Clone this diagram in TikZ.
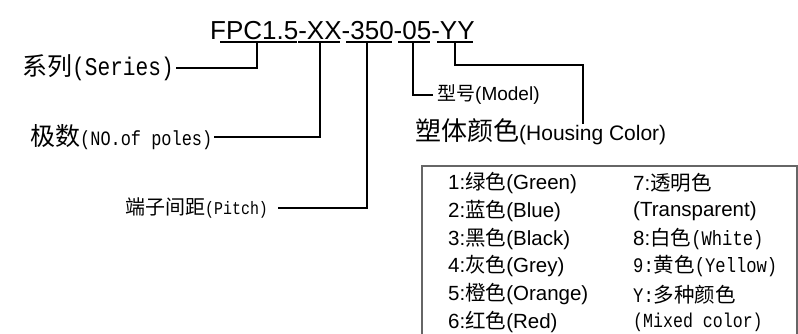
\documentclass[tikz,border=0pt]{standalone}
\usepackage{fontspec}
\setmainfont{Liberation Sans}
\newfontfamily\cjk{Noto Sans CJK SC}
\newfontfamily\monof[FakeStretch=0.83]{Liberation Mono}
\newcommand{\fsz}[1]{\fontsize{#1}{#1}\selectfont}
\begin{document}
\begin{tikzpicture}[x=1pt,y=-1pt,
  lbl/.style={inner sep=0pt,anchor=west},
  conn/.style={line width=1.5pt,line join=miter},
  uline/.style={line width=1.3pt},
  rowtxt/.style={inner sep=0pt,anchor=west,font=\fsz{20.5}}]
\useasboundingbox (0,0) rectangle (798,334);
% title
\node[inner sep=0pt,anchor=base west,font=\fsz{26}] (title) at (210,39.5) {FPC1.5-XX-350-05-YY};
\coordinate (ua1) at (220,42); \coordinate (ua2) at (297,42);
\coordinate (ub1) at (298,42); \coordinate (ub2) at (340,42);
\coordinate (uc1) at (346,42); \coordinate (uc2) at (392,42);
\coordinate (ud1) at (398,42); \coordinate (ud2) at (430,42);
\coordinate (ue1) at (437,42); \coordinate (ue2) at (473,42);
\draw[uline] (ua1) -- (ua2) (ub1) -- (ub2) (uc1) -- (uc2) (ud1) -- (ud2) (ue1) -- (ue2);
\coordinate (pa) at (257,42);
\coordinate (pb) at (320,42);
\coordinate (pc) at (367,42);
\coordinate (pd) at (413,42);
\coordinate (pe) at (455,42);
% labels
\node[lbl] (series) at (22,68) {\cjk\fsz{25}系列\monof\fsz{25.5}(Series)};
\node[lbl] (poles) at (30,137) {\cjk\fsz{25}极数\monof\fsz{20.4}(NO.of poles)};
\node[lbl] (pitch) at (125,208) {\cjk\fsz{20}端子间距\monof\fsz{18}(Pitch)};
\node[lbl] (model) at (437,95) {\cjk\fsz{19}型号\rmfamily\fsz{19}(Model)};
\node[lbl] (housing) at (415,132) {\cjk\fsz{26}塑体颜色\rmfamily\fsz{21}(Housing Color)};
% connectors
\draw[conn] (series.east) ++(2,0) coordinate (s0) -- (s0 -| pa) -- (pa);
\draw[conn] (poles.east) ++(2,0) coordinate (p0) -- (p0 -| pb) -- (pb);
\draw[conn] (pitch.east) ++(10,0) coordinate (t0) -- (t0 -| pc) -- (pc);
\draw[conn] (model.west) ++(-4,0) coordinate (m0) -- (m0 -| pd) -- (pd);
\coordinate (hc) at (583,124);
\draw[conn] (pe) -- (pe |- 0,65) -- (hc |- 0,65) -- (hc);
% colour box
\node[inner sep=0pt] (boxtl) at (422,166) {};
\draw[line width=1.2pt,color=black!60] (422,340) -- (boxtl.center) -- (797,166) -- (797,340);
\node[rowtxt] (c1) at (448,183) {1:{\cjk 绿色}(Green)};
\node[rowtxt] (c2) at (448,210.8) {2:{\cjk 蓝色}(Blue)};
\node[rowtxt] (c3) at (448,238.6) {3:{\cjk 黑色}(Black)};
\node[rowtxt] (c4) at (448,266.4) {4:{\cjk 灰色}(Grey)};
\node[rowtxt] (c5) at (448,294.2) {5:{\cjk 橙色}(Orange)};
\node[rowtxt] (c6) at (448,322) {6:{\cjk 红色}(Red)};
\node[rowtxt] (d1) at (633,183) {7:{\cjk 透明色}};
\node[rowtxt] (d2) at (633,210.8) {(Transparent)};
\node[rowtxt] (d3) at (633,238.6) {8:{\cjk 白色}{\monof\fsz{20.7}(White)}};
\node[rowtxt] (d4) at (633,266.4) {\monof\fsz{20.7}9:{\cjk\fsz{20.5}黄色}(Yellow)};
\node[rowtxt] (d5) at (633,294.2) {\monof\fsz{20.7}Y:{\cjk\fsz{20.5}多种颜色}};
\node[rowtxt] (d6) at (633,322) {\monof\fsz{20}(Mixed color)};
\end{tikzpicture}
\end{document}
